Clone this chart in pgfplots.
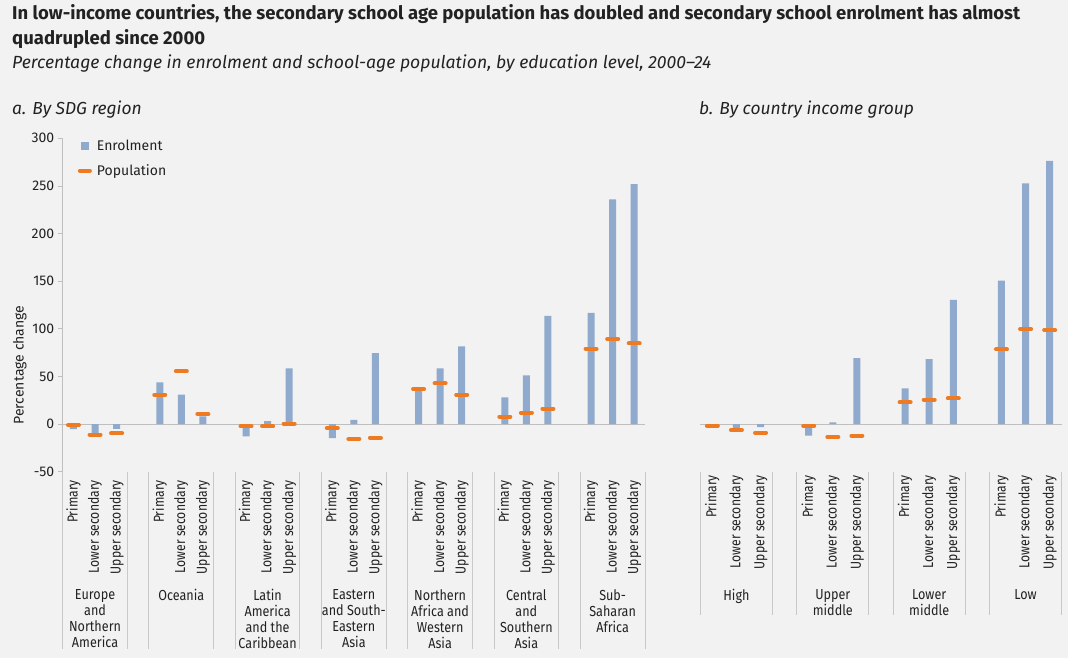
\documentclass[border=0pt]{standalone}
\usepackage{pgfplots}
\pgfplotsset{compat=1.18}
\usepackage{pgfplotstable}
\usepackage{fontspec}
\setmainfont{Fira Sans}
\newfontfamily\condfont[FakeStretch=0.87]{Fira Sans}
\newfontfamily\narrowfont[FakeStretch=0.84]{Fira Sans}

\definecolor{bg}{HTML}{F2F2F2}
\definecolor{barblue}{HTML}{8FAACD}
\definecolor{popor}{HTML}{EE7A22}
\definecolor{axisgray}{HTML}{BFBFBF}
\definecolor{sepgray}{HTML}{C8C8C8}
\definecolor{txt}{HTML}{222222}

% x = slot (3 levels + one empty slot per group), enrol, pop in %
\pgfplotstableread{
x enrol pop
0  -5.2  -1.0
1  -9.4  -11.2
2  -5.0  -9.8
4  43.7  30.8
5  30.8  55.6
6  8.0   10.5
8  -12.9 -2.4
9  3.1   -2.4
10 58.4  0.3
12 -14.7 -4.2
13 4.5   -15.7
14 74.5  -14.3
16 36.0  36.7
17 58.4  42.7
18 81.5  30.8
20 28.0  7.7
21 51.0  11.9
22 113.6 16.1
24 116.8 79.0
25 236.0 89.2
26 252.0 84.6
}\regiontable

\pgfplotstableread{
x enrol pop
0  -3.5  -1.7
1  -4.2  -6.3
2  -3.1  -9.1
4  -12.2 -1.7
5  1.7   -13.6
6  69.2  -12.2
8  37.4  22.7
9  68.2  25.5
10 130.4 26.9
12 150.7 78.3
13 252.8 99.7
14 276.2 98.6
}\incometable

\newcommand{\tickfont}{\fontsize{14}{16}\selectfont}
\newcommand{\condtick}{\condfont\fontsize{14.5}{16}\selectfont}
\newcommand{\leveltick}{\narrowfont\fontsize{14.5}{16}\selectfont}

\tikzset{grp/.style={anchor=north, yshift=-114pt, align=center, font=\condtick, text=txt}}

\pgfplotsset{
  panel/.style={
    scale only axis,
    height=333.4pt,
    ymin=-50, ymax=300,
    xmin=-0.5,
    clip=false,
    axis x line*=bottom,
    axis y line*=left,
    separate axis lines,
    x axis line style={draw=none},
    xtick style={draw=none},
    tick label style={font=\tickfont, text=txt},
    x tick label style={rotate=90, anchor=east, font=\leveltick},
  },
  enrolbar/.style={ybar, bar width=7pt, fill=barblue, draw=none},
  popmark/.style={only marks, mark=-, mark size=5.5pt,
    mark options={line width=4pt, line cap=round, draw=popor}},
}

\begin{document}
\begin{tikzpicture}
\fill[bg] (0pt,0pt) rectangle (1068pt,658pt);
\useasboundingbox (0pt,0pt) rectangle (1068pt,658pt);

\node[anchor=base west, font=\fontsize{18.5}{21}\selectfont\bfseries, text=txt, inner sep=0pt]
  at (12pt,638.7pt) {In low-income countries, the secondary school age population has doubled and secondary school enrolment has almost};
\node[anchor=base west, font=\fontsize{18.5}{21}\selectfont\bfseries, text=txt, inner sep=0pt]
  at (12pt,613pt) {quadrupled since 2000};
\node[anchor=base west, font=\fontsize{17.6}{20}\selectfont\itshape, text=txt, inner sep=0pt]
  at (12pt,589.5pt) {Percentage change in enrolment and school-age population, by education level, 2000–24};
\node[anchor=base west, font=\fontsize{17.4}{20}\selectfont\itshape, text=txt, inner sep=0pt]
  at (12pt,543pt) {a. By SDG region};
\node[anchor=base west, font=\fontsize{17.4}{20}\selectfont\itshape, text=txt, inner sep=0pt]
  at (699pt,543pt) {b. By country income group};
\node[rotate=90, font=\tickfont, text=txt] at (20pt,293pt) {Percentage change};

% a. By SDG region
\begin{axis}[panel,
  at={(62.7pt,186.3pt)}, anchor=south west,
  width=582.3pt, xmax=26.5,
  y axis line style={draw=axisgray, line width=0.8pt},
  ytick={-50,0,50,100,150,200,250,300},
  yticklabels={-50,0,50,100,150,200,250,300},
  ytick style={draw=axisgray, line width=0.8pt},
  tick align=outside, major tick length=5pt,
  xtick={0,1,2,4,5,6,8,9,10,12,13,14,16,17,18,20,21,22,24,25,26},
  xticklabels={Primary,Lower secondary,Upper secondary,Primary,Lower secondary,Upper secondary,
    Primary,Lower secondary,Upper secondary,Primary,Lower secondary,Upper secondary,
    Primary,Lower secondary,Upper secondary,Primary,Lower secondary,Upper secondary,
    Primary,Lower secondary,Upper secondary},
  legend style={at={(axis cs:-0.5,300)}, anchor=north west, xshift=12pt, yshift=2pt,
    draw=none, fill=none, font=\tickfont, text=txt, row sep=8pt,
    /tikz/every odd column/.append style={column sep=3pt}},
  legend cell align=left,
]
\addplot[axisgray, line width=1pt, forget plot] coordinates {(-0.5,0) (26.5,0)};
\addplot[enrolbar, legend image code/.code={\fill[barblue] (1pt,-4pt) rectangle (9pt,4pt);}]
  table[x=x, y=enrol] {\regiontable};
\addlegendentry{Enrolment}
\addplot[popmark, legend image code/.code={\draw[popor, line width=4pt, line cap=round] (0pt,0pt) -- (10pt,0pt);}]
  table[x=x, y=pop] {\regiontable};
\addlegendentry{Population}
\pgfplotsinvokeforeach{-0.5,2.5,3.5,6.5,7.5,10.5,11.5,14.5,15.5,18.5,19.5,22.5,23.5,26.5}{
  \draw[sepgray, line width=1pt] (axis cs:#1,-50) -- ++(0pt,-177pt);
}
\node[grp] at (axis cs:1,-50) {Europe\\and\\Northern\\America};
\node[grp] at (axis cs:5,-50) {Oceania};
\node[grp] at (axis cs:9,-50) {Latin\\America\\and the\\Caribbean};
\node[grp] at (axis cs:13,-50) {Eastern\\and South-\\Eastern\\Asia};
\node[grp] at (axis cs:17,-50) {Northern\\Africa and\\Western\\Asia};
\node[grp] at (axis cs:21,-50) {Central\\and\\Southern\\Asia};
\node[grp] at (axis cs:25,-50) {Sub-\\Saharan\\Africa};
\end{axis}

% b. By country income group
\begin{axis}[panel,
  at={(700.3pt,186.3pt)}, anchor=south west,
  width=361.4pt, xmax=14.5,
  y axis line style={draw=none},
  ytick=\empty,
  xtick={0,1,2,4,5,6,8,9,10,12,13,14},
  xticklabels={Primary,Lower secondary,Upper secondary,Primary,Lower secondary,Upper secondary,
    Primary,Lower secondary,Upper secondary,Primary,Lower secondary,Upper secondary},
]
\addplot[axisgray, line width=1pt, forget plot] coordinates {(-0.5,0) (14.5,0)};
\addplot[enrolbar] table[x=x, y=enrol] {\incometable};
\addplot[popmark] table[x=x, y=pop] {\incometable};
\pgfplotsinvokeforeach{-0.5,2.5,3.5,6.5,7.5,10.5,11.5,14.5}{
  \draw[sepgray, line width=1pt] (axis cs:#1,-50) -- ++(0pt,-143pt);
}
\node[grp] at (axis cs:1,-50) {High};
\node[grp] at (axis cs:5,-50) {Upper\\middle};
\node[grp] at (axis cs:9,-50) {Lower\\middle};
\node[grp] at (axis cs:13,-50) {Low};
\end{axis}
\end{tikzpicture}
\end{document}
